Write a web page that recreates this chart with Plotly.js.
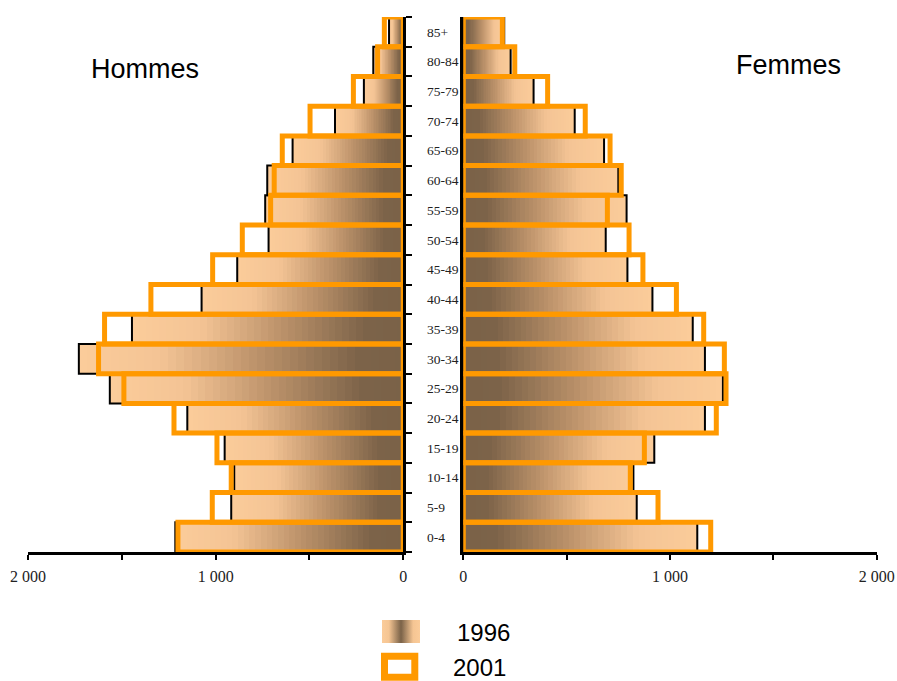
<!DOCTYPE html>
<html>
<head>
<meta charset="utf-8">
<script src="https://cdn.plot.ly/plotly-3.0.1.min.js"></script>
<style>html,body{margin:0;padding:0;background:#fff;}#chart{width:897px;height:681px;}</style>
</head>
<body>
<div id="chart"></div>
<script>
// ---- data (thousands) ----
const ages = ['0-4','5-9','10-14','15-19','20-24','25-29','30-34','35-39','40-44','45-49','50-54','55-59','60-64','65-69','70-74','75-79','80-84','85+'];
const hommes1996 = [1215, 917, 901, 952, 1151, 1564, 1729, 1446, 1075, 885, 718, 736, 725, 590, 364, 210, 160, 76];
const hommes2001 = [1201, 1018, 917, 993, 1222, 1489, 1624, 1592, 1345, 1016, 858, 707, 688, 645, 497, 266, 137, 101];
const femmes1996 = [1132, 839, 823, 924, 1169, 1256, 1169, 1110, 915, 794, 689, 790, 750, 681, 539, 340, 229, 198];
const femmes2001 = [1197, 942, 808, 876, 1224, 1271, 1263, 1163, 1031, 869, 802, 697, 764, 710, 590, 408, 249, 189];
const xTickVals = [0, 500, 1000, 1500, 2000];
const xTickText = ['0', '', '1 000', '', '2 000'];
const yearLabels = ['1996', '2001'];
const sideLabels = ['Hommes', 'Femmes'];

// ---- style ----
const W = 897, H = 681;
const ORANGE = '#ff9900';
const gradStops = [
  [0.00, [122, 98, 72]],
  [0.14, [124, 99, 73]],
  [0.45, [188, 146, 106]],
  [0.75, [244, 196, 149]],
  [1.00, [251, 204, 154]]
];
function gradColor(t) {
  for (let i = 1; i < gradStops.length; i++) {
    if (t <= gradStops[i][0]) {
      const [t0, c0] = gradStops[i - 1], [t1, c1] = gradStops[i];
      const f = (t - t0) / (t1 - t0);
      const c = c0.map((v, j) => Math.round(v + (c1[j] - v) * f));
      return `rgb(${c[0]},${c[1]},${c[2]})`;
    }
  }
  const c = gradStops[gradStops.length - 1][1];
  return `rgb(${c[0]},${c[1]},${c[2]})`;
}
const px = x => x / W;
const py = y => 1 - y / H;

const N = 40;
const traces = [];
function addSide(vals1996, vals2001, xa, ya) {
  for (let k = 0; k < N; k++) {
    traces.push({
      type: 'bar', orientation: 'h', y: ages,
      base: vals1996.map(v => v * k / N),
      x: vals1996.map(v => v * (1 - k / N)),
      width: 1,
      marker: { color: gradColor((k + 0.5) / N), line: { width: 0 } },
      xaxis: xa, yaxis: ya, hoverinfo: 'skip', showlegend: false
    });
  }
  traces.push({
    type: 'bar', orientation: 'h', y: ages, x: vals1996, width: 1,
    marker: { color: 'rgba(0,0,0,0)', line: { color: '#000', width: 2 } },
    xaxis: xa, yaxis: ya, name: yearLabels[0], showlegend: false
  });
  traces.push({
    type: 'bar', orientation: 'h', y: ages, x: vals2001, width: 1,
    marker: { color: 'rgba(0,0,0,0)', line: { color: ORANGE, width: 5 } },
    xaxis: xa, yaxis: ya, name: yearLabels[1], showlegend: false
  });
}
addSide(hommes1996, hommes2001, 'x', 'y');
addSide(femmes1996, femmes2001, 'x2', 'y2');

const serif = { family: 'Liberation Serif, Times New Roman, serif', size: 16, color: '#222' };
const xCommon = {
  showline: true, linecolor: '#000', linewidth: 3,
  ticks: 'outside', ticklen: 5, tickwidth: 2, tickcolor: '#000',
  tickvals: xTickVals, ticktext: xTickText, tickfont: serif,
  ticklabelstandoff: 3,
  showgrid: false, zeroline: false, fixedrange: true
};
const yDomain = [py(552), py(17)];

const swatchSvg = "<svg xmlns='http://www.w3.org/2000/svg' width='38' height='23'><defs><linearGradient id='g' x1='0' y1='0' x2='1' y2='0'>" +
  "<stop offset='0' stop-color='#fbcc9a'/><stop offset='0.18' stop-color='#f5c593'/><stop offset='0.5' stop-color='#7a6248'/>" +
  "<stop offset='0.82' stop-color='#f5c593'/><stop offset='1' stop-color='#fbcc9a'/></linearGradient></defs>" +
  "<rect width='38' height='23' fill='url(#g)'/></svg>";

const layout = {
  width: W, height: H,
  margin: { l: 0, r: 0, t: 0, b: 0 },
  paper_bgcolor: '#fff', plot_bgcolor: 'rgba(0,0,0,0)',
  barmode: 'overlay', bargap: 0,
  showlegend: false,
  xaxis: Object.assign({}, xCommon, { domain: [px(28), px(403.3)], range: [2000, 0], anchor: 'y' }),
  xaxis2: Object.assign({}, xCommon, { domain: [px(463.3), px(876.7)], range: [0, 2000], anchor: 'y2' }),
  yaxis: {
    domain: yDomain, anchor: 'x', side: 'right', type: 'category',
    categoryorder: 'array', categoryarray: ages, range: [-0.5, 17.5],
    showline: true, linecolor: '#000', linewidth: 3,
    ticks: 'outside', tickson: 'boundaries', ticklen: 6, tickwidth: 2, tickcolor: '#000',
    tickfont: { family: 'Liberation Serif, Times New Roman, serif', size: 13.5, color: '#222' },
    ticklabelstandoff: 18,
    showgrid: false, zeroline: false, fixedrange: true
  },
  yaxis2: {
    domain: yDomain, anchor: 'x2', side: 'left', type: 'category',
    categoryorder: 'array', categoryarray: ages, range: [-0.5, 17.5],
    showline: true, linecolor: '#000', linewidth: 3,
    ticks: '', showticklabels: false,
    showgrid: false, zeroline: false, fixedrange: true
  },
  annotations: [
    { text: sideLabels[0], xref: 'paper', yref: 'paper', x: px(144.5), y: py(69), showarrow: false,
      xanchor: 'center', yanchor: 'middle', font: { family: 'Liberation Sans, Arial, sans-serif', size: 27, color: '#000' } },
    { text: sideLabels[1], xref: 'paper', yref: 'paper', x: px(788.5), y: py(65), showarrow: false,
      xanchor: 'center', yanchor: 'middle', font: { family: 'Liberation Sans, Arial, sans-serif', size: 27, color: '#000' } },
    { text: yearLabels[0], xref: 'paper', yref: 'paper', x: px(455), y: py(632), showarrow: false,
      xanchor: 'left', yanchor: 'middle', font: { family: 'Liberation Sans, Arial, sans-serif', size: 24, color: '#000' } },
    { text: yearLabels[1], xref: 'paper', yref: 'paper', x: px(451), y: py(667), showarrow: false,
      xanchor: 'left', yanchor: 'middle', font: { family: 'Liberation Sans, Arial, sans-serif', size: 24, color: '#000' } }
  ],
  images: [
    { source: 'data:image/svg+xml;charset=utf-8,' + encodeURIComponent(swatchSvg),
      xref: 'paper', yref: 'paper', x: px(382), y: py(620), sizex: 38 / W, sizey: 23 / H,
      sizing: 'stretch', xanchor: 'left', yanchor: 'top', layer: 'above' }
  ],
  shapes: [
    { type: 'rect', xref: 'paper', yref: 'paper', x0: px(384.5), x1: px(414.8), y0: py(656.3), y1: py(677.2),
      line: { color: ORANGE, width: 7 }, fillcolor: '#fff' }
  ]
};

Plotly.newPlot('chart', traces, layout, { staticPlot: true, displayModeBar: false });
</script>
</body>
</html>
